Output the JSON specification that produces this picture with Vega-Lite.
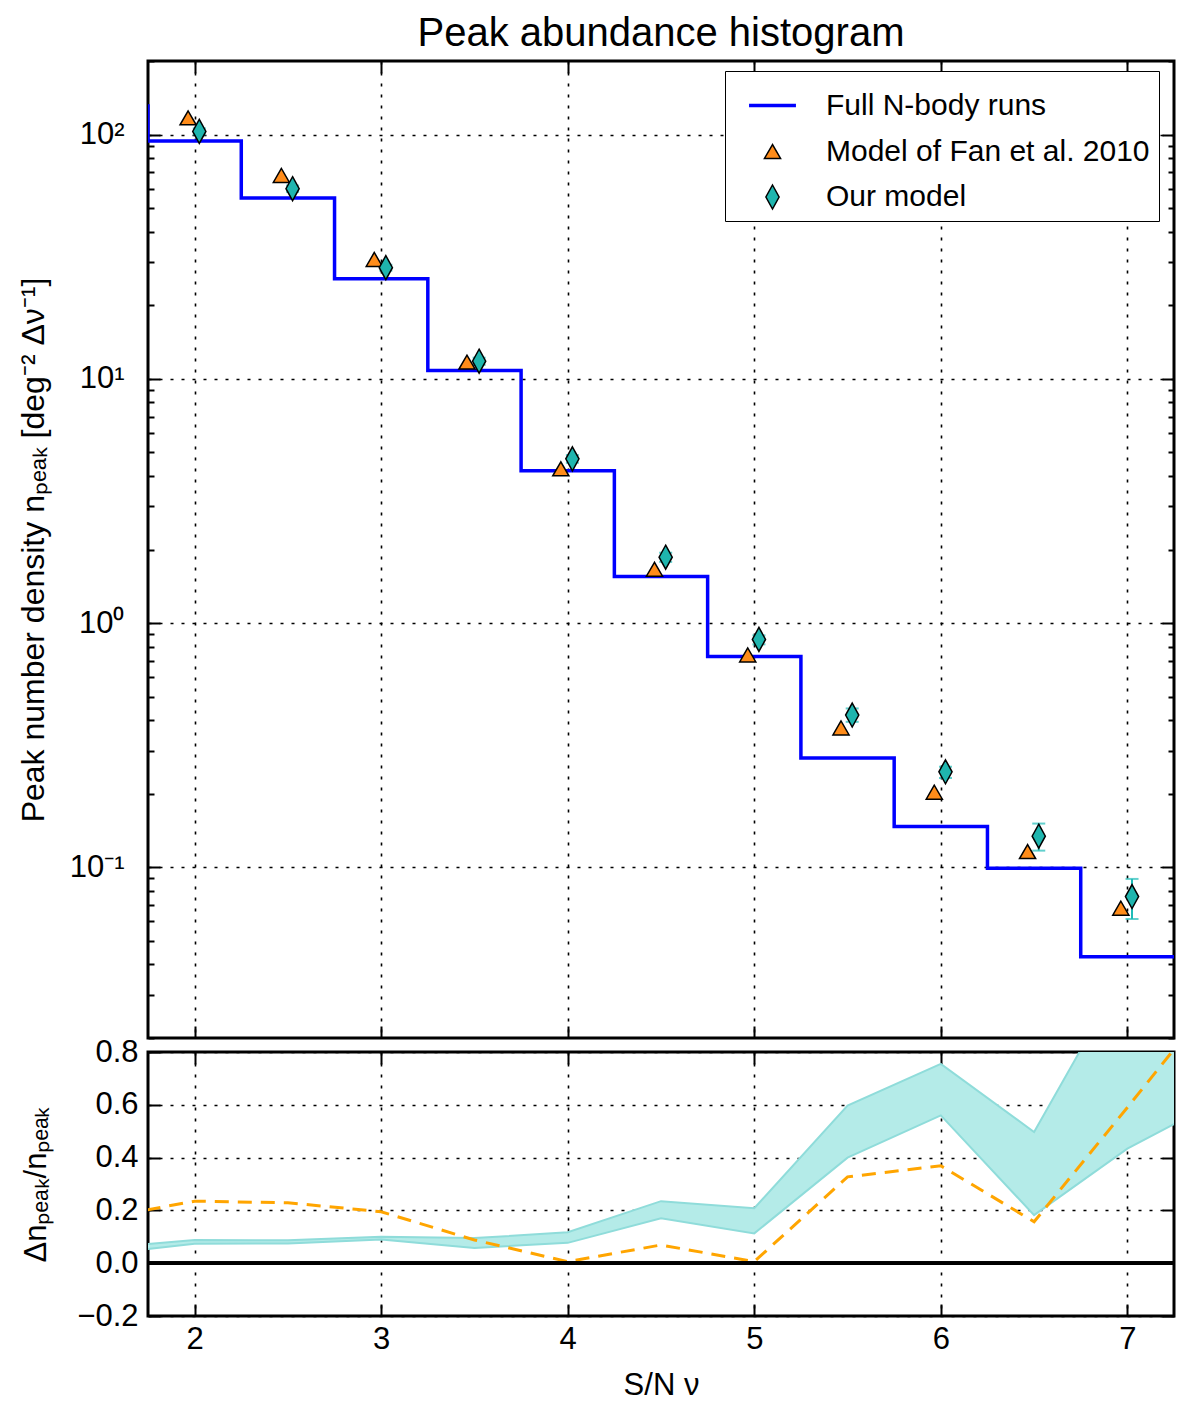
{
  "$schema": "https://vega.github.io/schema/vega-lite/v6.json",
  "padding": {"left": 15, "top": 12, "right": 20, "bottom": 0},
  "spacing": -7,
  "config": {
    "font": "Liberation Sans",
    "view": {"stroke": "black", "strokeWidth": 3},
    "axis": {
      "domain": false,
      "labelFont": "Liberation Sans",
      "labelFontSize": 31,
      "labelColor": "black",
      "titleFont": "Liberation Sans",
      "titleFontSize": 31,
      "titleFontWeight": "normal",
      "titleColor": "black",
      "gridColor": "black",
      "gridDash": [3, 8],
      "gridWidth": 1.6,
      "gridOpacity": 1,
      "tickColor": "black",
      "tickWidth": 2,
      "tickSize": -12
    }
  },
  "datasets": {
    "step": [
      {"x": 1.25, "n": 131}, {"x": 1.75, "n": 94}, {"x": 2.25, "n": 55},
      {"x": 2.75, "n": 25.7}, {"x": 3.25, "n": 10.8}, {"x": 3.75, "n": 4.2},
      {"x": 4.25, "n": 1.55}, {"x": 4.75, "n": 0.73}, {"x": 5.25, "n": 0.28},
      {"x": 5.75, "n": 0.147}, {"x": 6.25, "n": 0.099}, {"x": 6.75, "n": 0.043},
      {"x": 7.25, "n": 0.043}
    ],
    "markers": [
      {"series": "Model of Fan et al. 2010", "x": 1.965, "n": 117},
      {"series": "Model of Fan et al. 2010", "x": 2.465, "n": 68},
      {"series": "Model of Fan et al. 2010", "x": 2.963, "n": 30.8},
      {"series": "Model of Fan et al. 2010", "x": 3.46, "n": 11.7},
      {"series": "Model of Fan et al. 2010", "x": 3.963, "n": 4.28},
      {"series": "Model of Fan et al. 2010", "x": 4.465, "n": 1.66},
      {"series": "Model of Fan et al. 2010", "x": 4.965, "n": 0.74},
      {"series": "Model of Fan et al. 2010", "x": 5.465, "n": 0.372},
      {"series": "Model of Fan et al. 2010", "x": 5.965, "n": 0.203},
      {"series": "Model of Fan et al. 2010", "x": 6.465, "n": 0.116},
      {"series": "Model of Fan et al. 2010", "x": 6.965, "n": 0.068},
      {"series": "Our model", "x": 2.025, "n": 103, "lo": 100, "hi": 106},
      {"series": "Our model", "x": 2.525, "n": 60, "lo": 58.2, "hi": 61.8},
      {"series": "Our model", "x": 3.025, "n": 28.5, "lo": 27.7, "hi": 29.3},
      {"series": "Our model", "x": 3.525, "n": 11.8, "lo": 11.4, "hi": 12.2},
      {"series": "Our model", "x": 4.025, "n": 4.7, "lo": 4.53, "hi": 4.87},
      {"series": "Our model", "x": 4.525, "n": 1.86, "lo": 1.78, "hi": 1.94},
      {"series": "Our model", "x": 5.025, "n": 0.857, "lo": 0.818, "hi": 0.89},
      {"series": "Our model", "x": 5.525, "n": 0.42, "lo": 0.394, "hi": 0.447},
      {"series": "Our model", "x": 6.025, "n": 0.246, "lo": 0.232, "hi": 0.258},
      {"series": "Our model", "x": 6.525, "n": 0.134, "lo": 0.117, "hi": 0.151},
      {"series": "Our model", "x": 7.025, "n": 0.0759, "lo": 0.0614, "hi": 0.0896}
    ],
    "band": [
      {"x": 1.5, "lower": 0.034, "upper": 0.058, "fan": 0.17},
      {"x": 2.0, "lower": 0.074, "upper": 0.088, "fan": 0.235},
      {"x": 2.5, "lower": 0.075, "upper": 0.087, "fan": 0.229},
      {"x": 3.0, "lower": 0.09, "upper": 0.1, "fan": 0.195},
      {"x": 3.5, "lower": 0.058, "upper": 0.095, "fan": 0.088},
      {"x": 4.0, "lower": 0.077, "upper": 0.117, "fan": 0.006},
      {"x": 4.5, "lower": 0.17, "upper": 0.235, "fan": 0.069},
      {"x": 5.0, "lower": 0.113, "upper": 0.208, "fan": 0.006},
      {"x": 5.5, "lower": 0.4, "upper": 0.597, "fan": 0.327},
      {"x": 6.0, "lower": 0.56, "upper": 0.755, "fan": 0.369},
      {"x": 6.5, "lower": 0.182, "upper": 0.497, "fan": 0.157},
      {"x": 7.0, "lower": 0.434, "upper": 1.12, "fan": 0.59},
      {"x": 7.5, "lower": 0.62, "upper": 1.2, "fan": 1.03}
    ]
  },
  "vconcat": [
    {
      "width": 1026,
      "height": 977,
      "title": {
        "text": "Peak abundance histogram",
        "fontSize": 40,
        "fontWeight": "normal",
        "color": "black",
        "frame": "group",
        "anchor": "middle",
        "offset": 6
      },
      "resolve": {"axis": {"x": "independent", "y": "independent"}},
      "layer": [
        {
          "data": {"name": "step"},
          "mark": {"type": "line", "interpolate": "step-after", "color": "#0000ff", "strokeWidth": 3.5, "clip": true},
          "encoding": {
            "x": {
              "field": "x", "type": "quantitative",
              "scale": {"domain": [1.75, 7.25], "nice": false, "zero": false},
              "axis": {"values": [2, 3, 4, 5, 6, 7], "labels": false, "title": null, "grid": true, "minExtent": 0, "maxExtent": 0}
            },
            "y": {
              "field": "n", "type": "quantitative",
              "scale": {"type": "log", "domain": [0.02, 200], "nice": false},
              "axis": {
                "title": "Peak number density nₚₑₐₖ [deg⁻² Δν⁻¹]",
                "titleFontSize": 32,
                "titleX": -98,
                "values": [0.02, 0.03, 0.04, 0.05, 0.06, 0.07, 0.08, 0.09, 0.1, 0.2, 0.3, 0.4, 0.5, 0.6, 0.7, 0.8, 0.9, 1, 2, 3, 4, 5, 6, 7, 8, 9, 10, 20, 30, 40, 50, 60, 70, 80, 90, 100, 200],
                "labelExpr": "datum.value === 100 ? '10²' : datum.value === 10 ? '10¹' : datum.value === 1 ? '10⁰' : datum.value === 0.1 ? '10⁻¹' : ''",
                "grid": true,
                "gridOpacity": {"condition": {"test": "indexof([0.1, 1, 10, 100], datum.value) >= 0", "value": 1}, "value": 0},
                "tickSize": {"condition": {"test": "indexof([0.1, 1, 10, 100], datum.value) >= 0", "value": -12}, "value": -6},
                "labelPadding": 36
              }
            }
          }
        },
        {
          "data": {"name": "markers"},
          "transform": [{"filter": "datum.series === 'Our model'"}],
          "mark": {"type": "rule", "color": "#1fbcb8", "strokeWidth": 2},
          "encoding": {
            "x": {"field": "x", "type": "quantitative", "axis": null},
            "y": {"field": "lo", "type": "quantitative", "axis": null},
            "y2": {"field": "hi"}
          }
        },
        {
          "data": {"name": "markers"},
          "transform": [
            {"filter": "datum.series === 'Our model'"},
            {"fold": ["lo", "hi"], "as": ["end", "v"]}
          ],
          "mark": {"type": "tick", "orient": "horizontal", "color": "#1fbcb8", "size": 13, "thickness": 2},
          "encoding": {
            "x": {"field": "x", "type": "quantitative", "axis": null},
            "y": {"field": "v", "type": "quantitative", "axis": null}
          }
        },
        {
          "data": {"name": "markers"},
          "mark": {"type": "point", "filled": true, "opacity": 1},
          "encoding": {
            "x": {"field": "x", "type": "quantitative", "axis": null},
            "y": {"field": "n", "type": "quantitative", "axis": null},
            "fill": {
              "field": "series", "type": "nominal",
              "scale": {"domain": ["Full N-body runs", "Model of Fan et al. 2010", "Our model"], "range": ["#0000ff", "#ff8c1a", "#1fb5ae"]},
              "legend": {
                "title": null,
                "orient": "none",
                "legendX": 577,
                "legendY": 10,
                "padding": 9,
                "symbolOffset": 13,
                "strokeColor": "black",
                "fillColor": "white",
                "cornerRadius": 0,
                "labelFont": "Liberation Sans",
                "labelFontSize": 30,
                "labelColor": "black",
                "labelLimit": 0,
                "labelOffset": 28,
                "rowPadding": 15.5,
                "encode": {"legend": {"update": {"strokeWidth": {"value": 2.5}}}}
              }
            },
            "shape": {
              "field": "series", "type": "nominal",
              "scale": {"domain": ["Full N-body runs", "Model of Fan et al. 2010", "Our model"], "range": ["stroke", "triangle-up", "M0,-1L0.55,0L0,1L-0.55,0Z"]}
            },
            "size": {
              "field": "series", "type": "nominal",
              "scale": {"type": "ordinal", "domain": ["Full N-body runs", "Model of Fan et al. 2010", "Our model"], "range": [2200, 260, 576]}
            },
            "stroke": {
              "field": "series", "type": "nominal",
              "scale": {"domain": ["Full N-body runs", "Model of Fan et al. 2010", "Our model"], "range": ["#0000ff", "black", "black"]}
            },
            "strokeWidth": {
              "field": "series", "type": "nominal",
              "scale": {"type": "ordinal", "domain": ["Full N-body runs", "Model of Fan et al. 2010", "Our model"], "range": [3.5, 1.5, 1.5]}
            }
          }
        },
        {
          "data": {"name": "step"},
          "mark": {"type": "line", "strokeOpacity": 0},
          "encoding": {
            "x": {
              "field": "x", "type": "quantitative",
              "axis": {"orient": "top", "values": [2, 3, 4, 5, 6, 7], "labels": false, "title": null, "grid": false, "minExtent": 0, "maxExtent": 0}
            },
            "y": {
              "field": "n", "type": "quantitative",
              "axis": {
                "orient": "right", "labels": false, "title": null, "grid": false, "minExtent": 0, "maxExtent": 0,
                "values": [0.02, 0.03, 0.04, 0.05, 0.06, 0.07, 0.08, 0.09, 0.1, 0.2, 0.3, 0.4, 0.5, 0.6, 0.7, 0.8, 0.9, 1, 2, 3, 4, 5, 6, 7, 8, 9, 10, 20, 30, 40, 50, 60, 70, 80, 90, 100, 200],
                "tickSize": {"condition": {"test": "indexof([0.1, 1, 10, 100], datum.value) >= 0", "value": -12}, "value": -6}
              }
            }
          }
        }
      ]
    },
    {
      "width": 1026,
      "height": 264,
      "data": {"name": "band"},
      "resolve": {"axis": {"x": "independent", "y": "independent"}},
      "layer": [
        {
          "mark": {"type": "area", "color": "#b4ebe8", "opacity": 1, "clip": true},
          "encoding": {
            "x": {
              "field": "x", "type": "quantitative",
              "scale": {"domain": [1.75, 7.25], "nice": false, "zero": false},
              "axis": {"values": [2, 3, 4, 5, 6, 7], "title": "S/N ν", "grid": true, "labelPadding": 20, "titlePadding": 16}
            },
            "y": {
              "field": "lower", "type": "quantitative",
              "scale": {"domain": [-0.2, 0.8], "nice": false, "zero": false},
              "axis": {
                "values": [-0.2, 0, 0.2, 0.4, 0.6, 0.8],
                "format": ".1f",
                "title": "Δnₚₑₐₖ/nₚₑₐₖ",
                "titleX": -96,
                "grid": true,
                "labelPadding": 22
              }
            },
            "y2": {"field": "upper"}
          }
        },
        {
          "mark": {"type": "line", "color": "#8fdcda", "strokeWidth": 2, "clip": true},
          "encoding": {
            "x": {"field": "x", "type": "quantitative", "axis": null},
            "y": {"field": "lower", "type": "quantitative", "axis": null}
          }
        },
        {
          "mark": {"type": "line", "color": "#8fdcda", "strokeWidth": 2, "clip": true},
          "encoding": {
            "x": {"field": "x", "type": "quantitative", "axis": null},
            "y": {"field": "upper", "type": "quantitative", "axis": null}
          }
        },
        {
          "mark": {"type": "line", "color": "#ffa500", "strokeWidth": 3, "strokeDash": [14, 9], "clip": true},
          "encoding": {
            "x": {"field": "x", "type": "quantitative", "axis": null},
            "y": {"field": "fan", "type": "quantitative", "axis": null}
          }
        },
        {
          "mark": {"type": "rule", "color": "black", "strokeWidth": 3},
          "encoding": {
            "y": {"datum": 0, "type": "quantitative", "axis": null}
          }
        },
        {
          "mark": {"type": "line", "strokeOpacity": 0, "clip": true},
          "encoding": {
            "x": {
              "field": "x", "type": "quantitative",
              "axis": {"orient": "top", "values": [2, 3, 4, 5, 6, 7], "labels": false, "title": null, "grid": false, "minExtent": 0, "maxExtent": 0}
            },
            "y": {
              "field": "lower", "type": "quantitative",
              "axis": {"orient": "right", "values": [-0.2, 0, 0.2, 0.4, 0.6, 0.8], "labels": false, "title": null, "grid": false, "minExtent": 0, "maxExtent": 0}
            }
          }
        }
      ]
    }
  ]
}
